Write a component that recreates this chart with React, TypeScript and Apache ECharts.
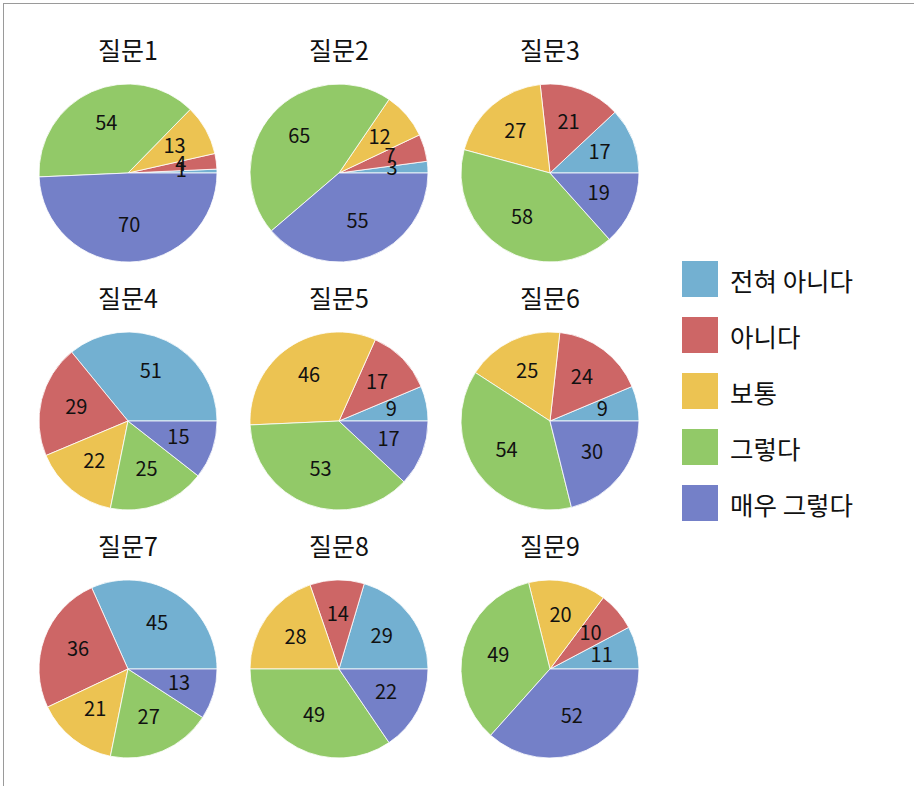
import React, { useEffect, useRef } from "react";
import * as echarts from "echarts";

const categories = ["전혀 아니다", "아니다", "보통", "그렇다", "매우 그렇다"];
const questions = ["질문1", "질문2", "질문3", "질문4", "질문5", "질문6", "질문7", "질문8", "질문9"];
const q1 = [1, 4, 13, 54, 70];
const q2 = [3, 7, 12, 65, 55];
const q3 = [17, 21, 27, 58, 19];
const q4 = [51, 29, 22, 25, 15];
const q5 = [9, 17, 46, 53, 17];
const q6 = [9, 24, 25, 54, 30];
const q7 = [45, 36, 21, 27, 13];
const q8 = [29, 14, 28, 49, 22];
const q9 = [11, 10, 20, 49, 52];
const values = [q1, q2, q3, q4, q5, q6, q7, q8, q9];
const colors = ["#73b0d1", "#cd6666", "#ecc352", "#92c968", "#7480c8"];

const FONT = "'Noto Sans CJK KR', 'Noto Sans', sans-serif";
const colX = [128, 339, 550];
const rowY = [173, 421, 669];
const R = 89;

export default function App() {
  const ref = useRef<HTMLDivElement>(null);
  useEffect(() => {
    if (!ref.current) return;
    const chart = echarts.init(ref.current, null, { renderer: "svg" });
    const titles: any[] = [];
    const series: any[] = [];
    const overlays: any[] = [];
    questions.forEach((q, i) => {
      const cx = colX[i % 3];
      const cy = rowY[Math.floor(i / 3)];
      titles.push({
        text: q,
        left: cx,
        top: cy - R - 48,
        textAlign: "center",
        padding: 0,
        textStyle: { fontFamily: FONT, fontSize: 25, fontWeight: "normal", color: "#111" },
      });
      const data = categories.map((c, k) => ({ name: c, value: values[i][k], itemStyle: { color: colors[k] } }));
      series.push({
        type: "pie",
        center: [cx, cy],
        radius: [0, R],
        startAngle: 0,
        clockwise: false,
        avoidLabelOverlap: false,
        label: { show: false },
        labelLine: { show: false },
        itemStyle: { borderColor: "#ffffff", borderWidth: 0.8 },
        emphasis: { disabled: true },
        data,
      });
      overlays.push({
        type: "pie",
        center: [cx, cy],
        radius: [0, R * 1.13],
        startAngle: 0,
        clockwise: false,
        avoidLabelOverlap: false,
        silent: true,
        z: 5,
        labelLayout: { hideOverlap: false },
        label: {
          show: true,
          position: "inside",
          formatter: "{c}",
          fontFamily: FONT,
          fontSize: 20,
          color: "#111",
          offset: [0, -3],
        },
        labelLine: { show: false },
        itemStyle: { color: "transparent", borderWidth: 0 },
        emphasis: { disabled: true },
        data: categories.map((c, k) => ({ name: c, value: values[i][k], itemStyle: { color: "transparent" } })),
      });
    });
    chart.setOption({
      animation: false,
      backgroundColor: "#ffffff",
      title: titles,
      legend: {
        orient: "vertical",
        left: 680,
        top: 259,
        padding: 0,
        itemWidth: 38,
        itemHeight: 38,
        itemGap: 16,
        icon: "rect",
        selectedMode: false,
        data: categories.map((c, k) => ({ name: c, itemStyle: { color: colors[k] } })),
        textStyle: { fontFamily: FONT, fontSize: 25.5, color: "#111", padding: [0, 0, 0, 6] },
      },
      series: [...series, ...overlays],
    });
    return () => chart.dispose();
  }, []);
  return (
    <div style={{ position: "absolute", left: 0, top: 0, width: 914, height: 786, overflow: "hidden", background: "#fff" }}>
      <div ref={ref} style={{ position: "absolute", left: 0, top: 0, width: 914, height: 786 }} />
      <div
        style={{
          position: "absolute",
          left: 3,
          top: 3,
          width: 1000,
          height: 1000,
          border: "1px solid #9a9a9a",
          pointerEvents: "none",
        }}
      />
    </div>
  );
}
